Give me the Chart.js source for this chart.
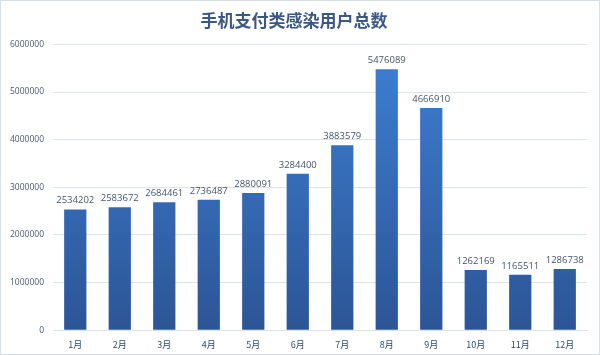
<!DOCTYPE html>
<html><head><meta charset="utf-8">
<script src="https://cdn.jsdelivr.net/npm/chart.js@4/dist/chart.umd.min.js"></script>
<style>
html,body{margin:0;padding:0;background:#fff;}
#wrap{position:absolute;left:0;top:0;width:598px;height:353px;border:1px solid #D6DEE8;}
</style></head>
<body>
<div id="wrap"><canvas id="c" width="598" height="353"></canvas></div>
<script>
const categories = ["1月","2月","3月","4月","5月","6月","7月","8月","9月","10月","11月","12月"];
const users = [2534202,2583672,2684461,2736487,2880091,3284400,3883579,5476089,4666910,1262169,1165511,1286738];
const titleText = "手机支付类感染用户总数";

const labelPlugin = {
  id:'vals',
  afterDatasetsDraw(chart){
    const ctx = chart.ctx;
    const meta = chart.getDatasetMeta(0);
    ctx.save();
    ctx.font = '9.5px "Open Sans", "Noto Sans", sans-serif';
    ctx.fillStyle = '#44546A';
    ctx.textAlign = 'center';
    ctx.textBaseline = 'bottom';
    meta.data.forEach((bar,i)=>{
      ctx.fillText(String(users[i]), bar.x, bar.y - 4);
    });
    ctx.restore();
  }
};

new Chart(document.getElementById('c'), {
  type:'bar',
  data:{labels:categories, datasets:[{
    data:users,
    backgroundColor(context){
      const ch = context.chart; const a = ch.chartArea;
      if(!a) return '#3A78C9';
      const g = ch.ctx.createLinearGradient(0,a.top,0,a.bottom);
      g.addColorStop(0,'#3E80D4');
      g.addColorStop(1,'#2C5596');
      return g;
    },
    barPercentage:0.5, categoryPercentage:1.0, borderWidth:0
  }]},
  options:{
    responsive:false, animation:false,
    layout:{padding:{left:0,right:12,top:0,bottom:3}},
    plugins:{
      legend:{display:false}, tooltip:{enabled:false},
      title:{display:true, text:titleText, color:'#3B5883',
        font:{size:17, weight:'bold', family:'"Noto Sans CJK SC", sans-serif'},
        padding:{top:9,bottom:14}}
    },
    scales:{
      y:{min:0,max:6000000,
        ticks:{stepSize:1000000, color:'#4A5A70', font:{size:8.5, family:'"Open Sans", sans-serif'}, padding:9,
          callback:(v)=>String(v)},
        grid:{color:'#DCE3EC', drawTicks:false}, border:{display:false}},
      x:{ticks:{color:'#2F4A70', font:{size:9, family:'"Noto Sans CJK SC", sans-serif'}, padding:1},
        grid:{display:false}, border:{color:'#DCE3EC'}}
    }
  },
  plugins:[labelPlugin]
});
</script>
</body></html>
